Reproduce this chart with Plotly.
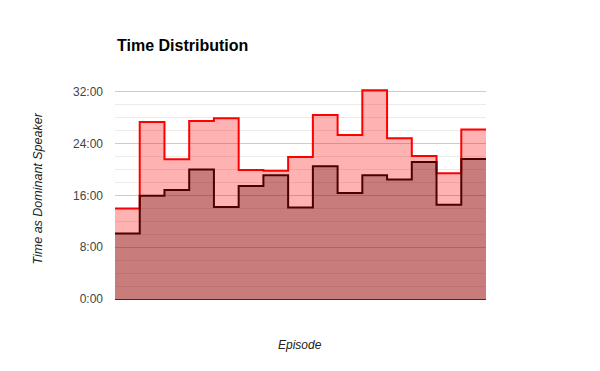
import plotly.graph_objects as go

# Data (minutes), one value per episode
episodes = list(range(1, 16))
total_minutes = [13.95, 27.3, 21.55, 27.45, 27.9, 19.9, 19.8, 21.9, 28.4, 25.3, 32.2, 24.8, 22.05, 19.4, 26.15]
dominant_minutes = [10.1, 15.95, 16.8, 20.0, 14.2, 17.45, 19.1, 14.1, 20.5, 16.35, 19.1, 18.45, 21.15, 14.55, 21.6]
tick_values = [0, 8, 16, 24, 32]
tick_labels = ["0:00", "8:00", "16:00", "24:00", "32:00"]

FONT = "Liberation Sans, Arial, sans-serif"

def steps(vals):
    xs = list(range(len(vals) + 1))
    ys = list(vals) + [vals[-1]]
    return xs, ys

fig = go.Figure()
x1, y1 = steps(total_minutes)
fig.add_trace(go.Scatter(x=x1, y=y1, mode="lines", line=dict(shape="hv", color="#ff0000", width=2),
                         fill="tozeroy", fillcolor="rgba(255,0,0,0.3)", name="Total",
                         hoverinfo="skip"))
x2, y2 = steps(dominant_minutes)
fig.add_trace(go.Scatter(x=x2, y=y2, mode="lines", line=dict(shape="hv", color="#4d0000", width=2),
                         fill="tozeroy", fillcolor="rgba(77,0,0,0.3)", name="Dominant",
                         hoverinfo="skip"))

fig.update_layout(
    width=600, height=371,
    margin=dict(l=115, r=114, t=78, b=72),
    paper_bgcolor="white", plot_bgcolor="white",
    showlegend=False,
    hovermode=False,
    font=dict(family=FONT, size=12, color="#444"),
    title=dict(text="<b>Time Distribution</b>", x=117/600, xref="container", xanchor="left",
               y=1-45/371, yref="container", yanchor="middle",
               font=dict(family=FONT, size=16, color="#000")),
    xaxis=dict(range=[0, 15], showgrid=False, showticklabels=False, ticks="", zeroline=False,
               showline=True, linecolor="#333", linewidth=1, fixedrange=True),
    yaxis=dict(range=[0, 34.1], tickvals=tick_values, ticktext=tick_labels, showgrid=True,
               gridcolor="#cccccc", gridwidth=1, zeroline=False, showline=False,
               ticks="", ticklabelstandoff=11, fixedrange=True,
               tickfont=dict(family=FONT, size=12, color="#444"),
               minor=dict(dtick=2, tick0=0, showgrid=True, gridcolor="#ebebeb", gridwidth=1)),
    annotations=[
        dict(text="<i>Time as Dominant Speaker</i>", xref="paper", yref="paper",
             x=-(115-37)/371, y=0.5, textangle=-90, showarrow=False,
             xanchor="center", yanchor="middle",
             font=dict(family=FONT, size=12.5, color="#222")),
        dict(text="<i>Episode</i>", xref="paper", yref="paper",
             x=(300-115)/371, y=-(345-299)/221, showarrow=False,
             xanchor="center", yanchor="middle",
             font=dict(family=FONT, size=12, color="#222")),
    ],
)

fig.write_html("out.html", config={"displayModeBar": False},
               post_script="document.body.style.margin='0';document.body.style.padding='0';")
